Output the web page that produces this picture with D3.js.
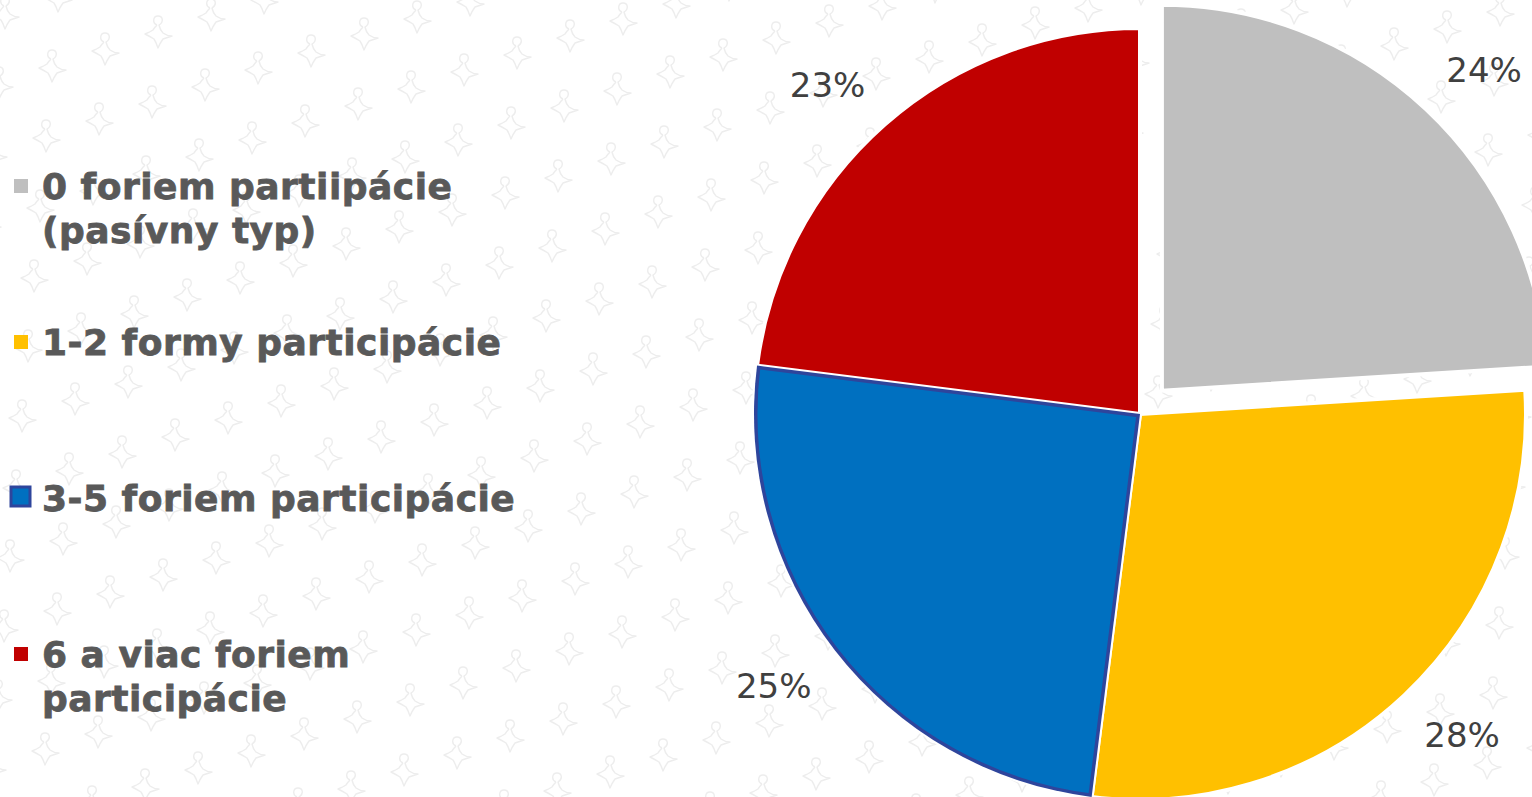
<!DOCTYPE html>
<html>
<head>
<meta charset="utf-8">
<script src="https://cdn.jsdelivr.net/npm/d3@7"></script>
<style>
  html, body { margin: 0; padding: 0; background: #fff; overflow: hidden; }
  svg { display: block; }
</style>
</head>
<body>
<div id="chart"></div>
<script>
// chart data
const categories = [
    "0 foriem partiipácie\n(pasívny typ)",
    "1-2 formy participácie",
    "3-5 foriem participácie",
    "6 a viac foriem\nparticipácie"
];
const values = [24, 28, 25, 23];
const colors = ["#BFBFBF", "#FFC000", "#0070C0", "#C00000"];
const pctLabels = ["24%", "28%", "25%", "23%"];

const width = 1532, height = 797;

const svg = d3.select('#chart')
    .append('svg')
    .attr('width', width)
    .attr('height', height);

// faint doodle background
const motif = "M14,11 C9,9 10,2 15,2 C20,2 21,8 16,11 Q17,16 20,19 Q24,22 29,22 Q23,24 20,25 Q17,29 15,34 Q13,28 11,25 Q6,22 2,20 Q7,18 10,16 Q12,13 14,11";
const bg = svg.append('g');
const ax = 53, ay = -17, bx = 47, by = 53;
for (let i = -30; i < 40; i++) {
    for (let j = -10; j < 40; j++) {
        const px = -10 + i * ax + j * bx;
        const py = -5 + i * ay + j * by;
        if (px < -40 || px > width + 10 || py < -40 || py > height + 10) continue;
        bg.append('path')
            .attr('d', motif)
            .attr('transform', `translate(${px},${py})`)
            .attr('fill', 'none')
            .attr('stroke', '#ededed')
            .attr('stroke-width', 1.4)
            .attr('stroke-linejoin', 'round');
    }
}

// pie
const cx = 1140, cy = 414, r = 386, explode = 32;
const pie = d3.pie().sort(null).value(d => d);
const arcs = pie(values);
const arc = d3.arc().innerRadius(0).outerRadius(r);
const labelArc = d3.arc().innerRadius(418).outerRadius(418);

const offset = (d, i) => {
    if (i !== 0) return [0, 0];
    const a = (d.startAngle + d.endAngle) / 2;
    return [Math.sin(a) * explode, -Math.cos(a) * explode];
};

const pieG = svg.append('g').attr('transform', `translate(${cx},${cy})`);

const defs = svg.append('defs');
defs.append('clipPath').attr('id', 'blueClip')
    .append('path').attr('d', arc(arcs[2]));

const slices = pieG.selectAll('g.slice')
    .data(arcs)
    .join('g')
    .attr('class', 'slice')
    .attr('transform', (d, i) => `translate(${offset(d, i)})`);

slices.append('path')
    .attr('d', arc)
    .attr('fill', (d, i) => colors[i])
    .attr('stroke', '#fff')
    .attr('stroke-width', 4)
    .attr('stroke-linejoin', 'miter');

// selected-looking outline on the blue slice, drawn on top
pieG.append('path')
    .attr('d', arc(arcs[2]))
    .attr('fill', 'none')
    .attr('stroke', '#2E459C')
    .attr('stroke-width', 7)
    .attr('clip-path', 'url(#blueClip)');

// percentage labels, box placed outside the anchor point
const hw = 36, hh = 16;
slices.append('text')
    .attr('transform', d => {
        const [x, y] = labelArc.centroid(d);
        return `translate(${x + Math.sign(x) * hw},${y + Math.sign(y) * hh})`;
    })
    .attr('text-anchor', 'middle')
    .attr('dy', '0.36em')
    .attr('font-family', 'DejaVu Sans, Verdana, sans-serif')
    .attr('font-size', 34)
    .attr('fill', '#404040')
    .text((d, i) => pctLabels[i]);

// legend
const legend = svg.append('g');
const items = legend.selectAll('g.legend-item')
    .data(categories)
    .join('g')
    .attr('class', 'legend-item')
    .attr('transform', (d, i) => `translate(0, ${199 + i * 156})`);

items.append('rect')
    .attr('x', (d, i) => i === 2 ? 11 : 14)
    .attr('y', (d, i) => i === 2 ? -24 : -20)
    .attr('width', (d, i) => i === 2 ? 19 : 14)
    .attr('height', (d, i) => i === 2 ? 19 : 14)
    .attr('fill', (d, i) => colors[i])
    .attr('stroke', (d, i) => i === 2 ? '#2E459C' : 'none')
    .attr('stroke-width', 3);

items.append('text')
    .attr('x', 42)
    .attr('font-family', 'DejaVu Sans, Verdana, sans-serif')
    .attr('font-weight', 'bold')
    .attr('font-size', 36)
    .attr('letter-spacing', 0.5)
    .attr('fill', '#595959')
    .attr('stroke', '#595959')
    .attr('stroke-width', 0.8)
    .selectAll('tspan')
    .data(d => d.split('\n'))
    .join('tspan')
    .attr('x', 42)
    .attr('dy', (d, i) => i === 0 ? 0 : 44)
    .text(d => d);
</script>
</body>
</html>
